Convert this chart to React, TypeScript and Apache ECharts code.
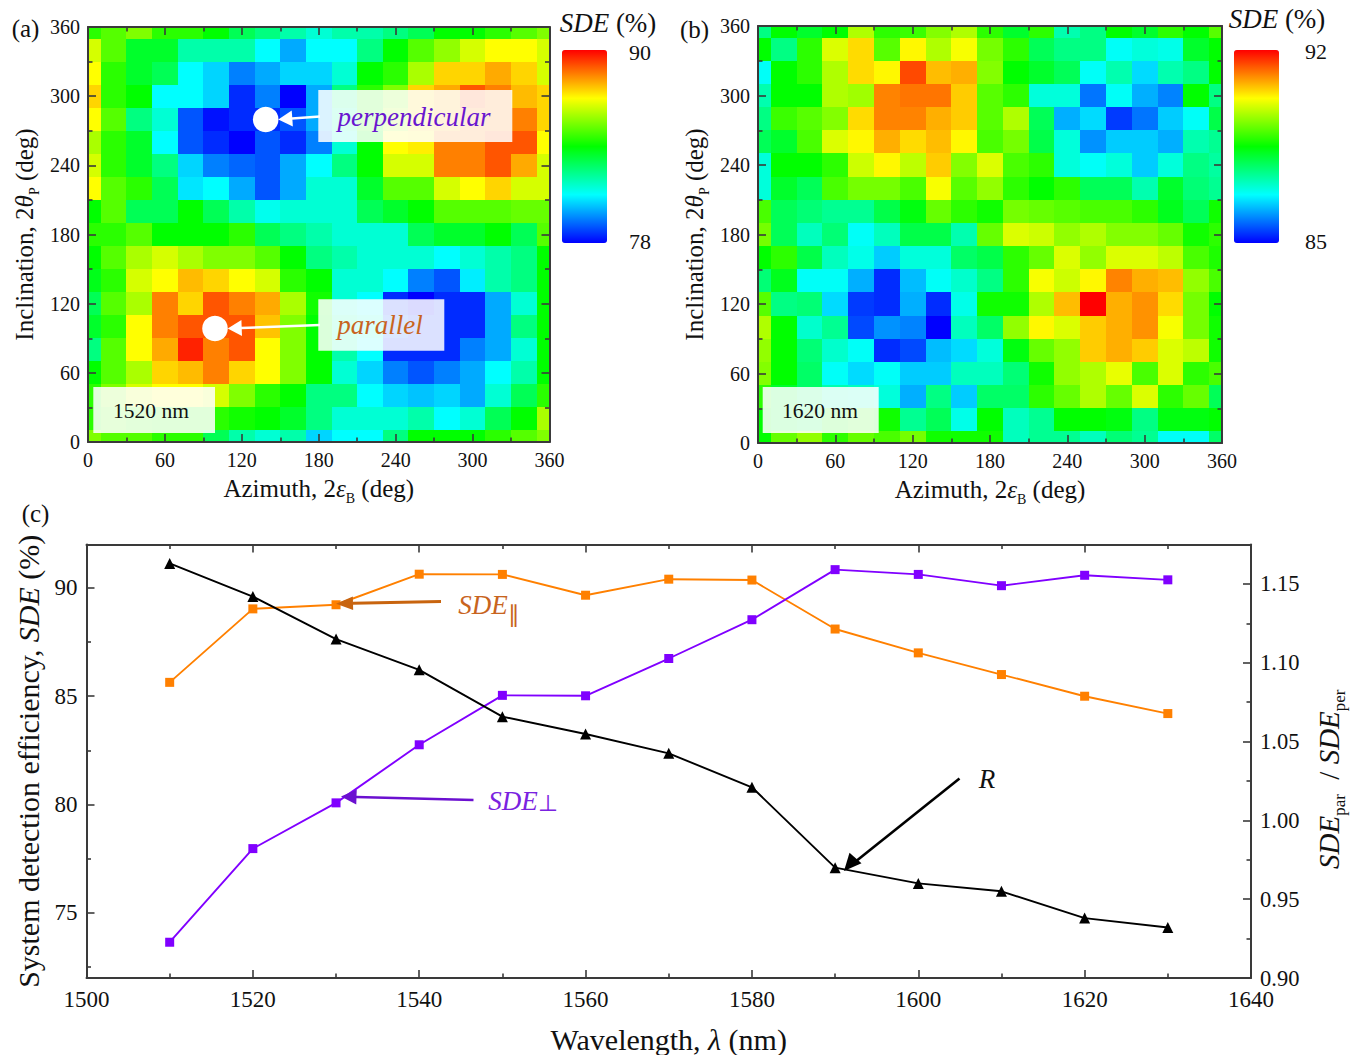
import React, { useEffect, useRef } from "react";
import * as echarts from "echarts";

const FONT = "Liberation Serif";
const azimuthStep = 20;
const heatTicksMajor = [0, 60, 120, 180, 240, 300, 360];
const heatTicksMinor = [30, 90, 150, 210, 270, 330];
const rainbow = ["#0000ff", "#00ffff", "#00ff00", "#ffff00", "#ff0000"];

// rows run from inclination 360 (top) to 0 (bottom), columns from azimuth 0 to 360
const sde1520 = [
  [84.5, 85, 85.5, 84.5, 84.5, 84, 83, 82.5, 82, 81.5, 82, 82, 82.5, 83, 84, 84, 84.5, 85, 85.5],
  [86.5, 85, 83.5, 83.5, 82, 82, 82, 81, 80, 81, 81, 82.5, 84, 85, 85.7, 86.5, 87, 87, 86.5],
  [87, 84.5, 83.5, 83, 81, 80.5, 79.5, 80, 80.5, 80.5, 81.5, 84, 84.5, 86, 87.5, 87.5, 88, 87.5, 86.5],
  [87.5, 84.5, 84, 81, 81, 80.5, 78.5, 79.5, 78, 80, 82.5, 84.5, 85.5, 87.5, 88, 89, 88.5, 87.8, 87.5],
  [87, 85, 82.5, 81.5, 79, 78.2, 78.5, 78.5, 79, 80, 82, 84.5, 86, 87.5, 88, 88.5, 88.5, 88.5, 87.5],
  [86, 84.5, 83.5, 81, 79, 78.5, 78, 79, 78.5, 79.5, 81.5, 84, 87, 87.2, 88.5, 88.5, 89, 89, 87],
  [86.5, 84.5, 83.5, 82.5, 80.5, 79.5, 79.2, 79, 80, 81, 82.5, 84, 86.5, 86.5, 88.5, 88.5, 89, 88, 86.5],
  [87, 85, 84.5, 83, 80.7, 81, 80, 79, 80, 81.5, 81.5, 83.5, 85, 85, 86.5, 87, 87.5, 86.5, 86.5],
  [84, 85, 83, 83, 84, 83, 82, 81.2, 81.5, 81.5, 81.5, 83, 83.5, 84, 85, 85, 85, 85.2, 85.2],
  [84.5, 84.5, 85, 84, 84, 84, 84.5, 83, 82.5, 82, 81.5, 81.5, 81.5, 83, 83.5, 83.5, 84, 83, 85],
  [84, 85, 86, 86.5, 86, 85.5, 85.5, 85, 84, 82.5, 82, 81.5, 81.5, 81.5, 81, 81.5, 82, 82.5, 84],
  [83.7, 84.5, 86.5, 87, 87.8, 87.5, 87, 86.5, 84.5, 84, 81.5, 81.5, 81, 79.5, 79, 80.8, 82, 82.5, 84],
  [83, 85, 86, 88.5, 87.5, 89, 88.5, 88, 86, 84.2, 81.5, 81, 78.5, 78, 78.5, 78.5, 80, 81.5, 84],
  [83.5, 84.5, 87, 88.5, 89, 89, 89, 87.7, 85.5, 84, 82, 81.5, 79, 78.5, 78.5, 78.5, 80, 82.5, 84],
  [82.5, 85, 87, 88, 89.6, 88.5, 89, 87, 85.5, 84, 82, 81, 78.5, 78.5, 78.5, 79.5, 80, 81.5, 84],
  [84, 85, 86, 87.5, 87.8, 88.5, 87.5, 87, 85.5, 84, 81.5, 80.5, 79.5, 79, 79.5, 80, 81, 82, 84],
  [84.5, 85.5, 86.5, 87, 87, 86.5, 85.5, 84.5, 84, 82.5, 82.5, 81, 80.5, 80.3, 80.5, 80, 81.5, 83, 84.5],
  [84.5, 85, 84.7, 84.5, 84.5, 84.5, 84.2, 84, 83.5, 82.5, 81.5, 81.5, 81.5, 82, 81, 81.5, 83, 84, 86],
  [85.5, 85, 85, 84.5, 84.5, 83, 82, 81.5, 82, 80.5, 81, 81, 82.5, 84, 84, 84, 84.5, 85, 85.5],
];

const sde1620 = [
  [87.6, 88.5, 88.2, 88.5, 89.7, 88.8, 88.9, 89.4, 89.7, 88.8, 88.2, 88.8, 87.3, 87.6, 88.5, 88.2, 88.8, 88.5, 89.1],
  [88.5, 87.6, 88.8, 90, 90.5, 89.1, 90.3, 89.7, 90.2, 89.3, 88.8, 87.9, 87.6, 87.6, 86.8, 87, 86.9, 88.2, 88.5],
  [86.8, 88.5, 88.8, 89.7, 90.5, 90.3, 91.5, 90.7, 90.8, 89.4, 88.5, 88.2, 87.9, 86.8, 87.3, 86.5, 87.3, 87.6, 88.5],
  [87.3, 88.5, 88.5, 89.7, 89.6, 91.1, 91.2, 91.2, 90.6, 89.1, 88.8, 87, 87, 85.8, 86.8, 86.2, 85.9, 88.5, 87.6],
  [87.6, 88.9, 89.1, 89.4, 90.5, 91.1, 91.1, 90.8, 90.6, 89.1, 89.7, 87.9, 86.2, 86.5, 85.4, 85.8, 86.4, 86.8, 88],
  [87.9, 88.2, 89, 90, 90.3, 90.8, 90.5, 90.7, 90.3, 89, 89.3, 88, 87, 86, 86.4, 86.4, 86.2, 87.3, 87.5],
  [87, 88.5, 88.5, 88.8, 89.9, 90.3, 89.8, 90.6, 89.4, 90, 89, 88.8, 87, 86.8, 87, 86.4, 87, 87.6, 87.4],
  [87, 88.2, 87.9, 89, 89.3, 89.3, 89, 90.2, 89.1, 89.5, 88.8, 88.5, 88.8, 87.9, 87.9, 87.3, 88.2, 87.7, 87.5],
  [89, 87.9, 87.7, 87.5, 87.5, 88, 88.4, 89.2, 88.8, 88.6, 89.3, 89.2, 89.1, 89, 89, 88.8, 88.3, 87.9, 88.6],
  [89.3, 87.9, 87.2, 87.7, 86.8, 87.2, 88, 88, 87.3, 89.2, 90, 89.9, 89.5, 89.7, 89.4, 89.4, 89.2, 88.6, 88.8],
  [88.5, 88.8, 88, 87.2, 86.9, 86.4, 87, 87, 87.8, 88, 88.8, 89.2, 90, 89.5, 90, 90, 89.8, 89, 88.7],
  [87.7, 88.3, 86.8, 86.8, 86.2, 85.3, 86.3, 86.8, 87.1, 87.6, 88.8, 90.2, 89.9, 90.3, 91.1, 90.8, 90.7, 89.5, 89],
  [89.1, 87.6, 87.7, 86.5, 85.4, 85.3, 86.2, 85.3, 86.9, 88.6, 88.6, 89.7, 90.7, 92, 90.8, 91, 90.5, 89.3, 88.5],
  [89.7, 88.5, 87.1, 87.5, 85.5, 86, 85.9, 85, 87.2, 87.8, 89.5, 90.3, 90, 90.6, 90.8, 91, 90.2, 89.3, 88.6],
  [89.5, 88.5, 87.7, 87.1, 86.8, 85.3, 85.5, 86.3, 86.5, 87, 88.4, 89.2, 89.5, 90.6, 90.8, 90.6, 90, 89.8, 88.6],
  [89.4, 88.5, 87.8, 86.8, 86.5, 86.8, 86.4, 86.4, 87.2, 87.2, 87.7, 88.6, 89.5, 89.7, 90.1, 89, 90, 88.8, 89],
  [88.8, 88.2, 87.8, 87.3, 87.2, 87, 86.2, 87.6, 86.4, 87.8, 87.8, 88.8, 89.2, 89.7, 89.2, 90, 88.8, 89.2, 87.9],
  [88.5, 88.2, 88, 88.6, 88.8, 88.6, 87.5, 87.9, 86.9, 88.5, 87.2, 87.5, 88.5, 88.5, 88.4, 87.6, 88.4, 88.4, 88.5],
  [88.5, 89.2, 89.5, 88.8, 89.2, 89, 89.3, 88.6, 88.6, 88.6, 87.2, 87.5, 87.5, 87.2, 87.7, 87.5, 86.8, 86.8, 87.8],
];

const wavelengths = [1510, 1520, 1530, 1540, 1550, 1560, 1570, 1580, 1590, 1600, 1610, 1620, 1630];
const sdeParallel = [85.64, 89.03, 89.22, 90.63, 90.62, 89.66, 90.4, 90.36, 88.1, 87.0, 86.0, 85.0, 84.2];
const sdePerpendicular = [73.65, 77.97, 80.08, 82.76, 85.04, 85.02, 86.74, 88.53, 90.84, 90.62, 90.1, 90.58, 90.37];
const ratioR = [1.163, 1.142, 1.115, 1.0955, 1.0658, 1.0548, 1.0425, 1.021, 0.97, 0.96, 0.955, 0.938, 0.932];

const wlMajor = [1500, 1520, 1540, 1560, 1580, 1600, 1620, 1640];
const wlMinor = [1510, 1530, 1550, 1570, 1590, 1610, 1630];
const sdeMajor = [75, 80, 85, 90];
const sdeMinor = [72.5, 77.5, 82.5, 87.5];
const ratioMajor = [0.9, 0.95, 1.0, 1.05, 1.1, 1.15];
const ratioMinor = [0.925, 0.975, 1.025, 1.075, 1.125];

const AXIS = "#3a3a3a";

const nameRich = (size: number) => ({
  i: { fontFamily: FONT, fontSize: size, fontStyle: "italic", color: "#111" },
  s: { fontFamily: FONT, fontSize: Math.round(size * 0.58), color: "#111", padding: [Math.round(size * 0.75), 0, 0, 0], verticalAlign: "middle" },
  n: { fontFamily: FONT, fontSize: size, color: "#111" },
});

function axisSet(kind: "x" | "y", gridIndex: number, min: number, max: number, major: number[], minor: number[], main: any, second: any) {
  const base = { type: "value", gridIndex, min, max, scale: true, splitLine: { show: false }, z: 10 };
  const tick = (values: number[], length: number) => ({
    show: true, inside: true, length, customValues: values, lineStyle: { color: AXIS, width: 1.6 },
  });
  const line = (show: boolean) => ({ show, onZero: false, lineStyle: { color: AXIS, width: 2 } });
  const [p1, p2] = kind === "x" ? ["bottom", "top"] : ["left", "right"];
  return [
    { ...base, position: p1, axisLine: line(true), axisTick: tick(major, 8), ...main },
    { ...base, position: p1, axisLine: line(false), axisTick: tick(minor, 4.5), axisLabel: { show: false } },
    { ...base, position: p2, axisLine: line(true), axisTick: tick(major, 8), axisLabel: { show: false }, ...second },
    { ...base, position: p2, axisLine: line(false), axisTick: tick(minor, 4.5), axisLabel: { show: false } },
  ];
}

const renderCell = (_: any, api: any) => {
  const x = api.value(0);
  const y = api.value(1);
  const half = azimuthStep / 2;
  const a = api.coord([Math.max(0, x - half), Math.min(360, y + half)]);
  const b = api.coord([Math.min(360, x + half), Math.max(0, y - half)]);
  const l = Math.round(a[0]), t = Math.round(a[1]), r = Math.round(b[0]), bt = Math.round(b[1]);
  return { type: "rect", shape: { x: l, y: t, width: r - l, height: bt - t }, style: { fill: api.visual("color") } };
};

const cells = (rows: number[][]) =>
  rows.flatMap((row, i) => row.map((v, j) => [j * azimuthStep, 360 - i * azimuthStep, v]));

function txt(x: number, y: number, text: string, size: number, extra: any = {}, rich?: any) {
  return {
    type: "text", x, y, z: 120,
    style: { text, fontFamily: FONT, fontSize: size, fill: "#111", align: "center", verticalAlign: "middle", rich, ...extra },
  };
}
function box(x: number, y: number, w: number, h: number, opacity = 0.86) {
  return { type: "rect", z: 110, shape: { x, y, width: w, height: h }, style: { fill: `rgba(255,255,255,${opacity})` } };
}
function seg(x1: number, y1: number, x2: number, y2: number, color: string, width: number) {
  return { type: "line", z: 115, shape: { x1, y1, x2, y2 }, style: { stroke: color, lineWidth: width } };
}
function head(tx: number, ty: number, bx: number, by: number, half: number, color: string) {
  const dx = bx - tx, dy = by - ty, len = Math.hypot(dx, dy);
  const nx = (-dy / len) * half, ny = (dx / len) * half;
  return {
    type: "polygon", z: 116,
    shape: { points: [[tx, ty], [bx + nx, by + ny], [bx - nx, by - ny]] },
    style: { fill: color },
  };
}

const sdeLabel = (size: number, color = "#111", subDrop = 0.7) => ({
  i: { fontFamily: FONT, fontStyle: "italic", fontSize: size, fill: color, color },
  n: { fontFamily: FONT, fontSize: size, fill: color, color },
  s: { fontFamily: FONT, fontSize: size * 0.85, fill: color, color, padding: [size * subDrop, 0, 0, 0] },
});

export default function App() {
  const ref = useRef<HTMLDivElement>(null);
  useEffect(() => {
    const chart = echarts.init(ref.current!, undefined, { renderer: "svg" });

    const azTitle = "{n|Azimuth, 2}{i|ε}{s|B}{n| (deg)}";
    const incTitle = "{n|Inclination, 2}{i|θ}{s|P}{n| (deg)}";
    const plain = (v: number) => String(v);
    const heatX = (g: number) =>
      axisSet("x", g, 0, 360, heatTicksMajor, heatTicksMinor, {
        axisLabel: { fontFamily: FONT, fontSize: 20, color: "#111", margin: 8, customValues: heatTicksMajor, formatter: plain },
        name: azTitle, nameLocation: "middle", nameGap: 30, nameTextStyle: { fontFamily: FONT, fontSize: 25, rich: nameRich(25) },
      }, {});
    const heatY = (g: number) =>
      axisSet("y", g, 0, 360, heatTicksMajor, heatTicksMinor, {
        axisLabel: { fontFamily: FONT, fontSize: 20, color: "#111", margin: 8, customValues: heatTicksMajor, formatter: plain },
        name: incTitle, nameLocation: "middle", nameGap: 47, nameTextStyle: { fontFamily: FONT, fontSize: 25, rich: nameRich(25) },
      }, {});

    const cX = axisSet("x", 2, 1500, 1640, wlMajor, wlMinor, {
      axisLabel: { fontFamily: FONT, fontSize: 23, color: "#111", margin: 10, customValues: wlMajor, formatter: plain },
      name: "{n|Wavelength, }{i|λ}{n| (nm)}", nameLocation: "middle", nameGap: 46, nameTextStyle: { fontFamily: FONT, fontSize: 30, rich: nameRich(30) },
    }, {});
    const base2 = { type: "value", gridIndex: 2, splitLine: { show: false }, z: 10 };
    const tick2 = (values: number[], length: number) => ({ show: true, inside: true, length, customValues: values, lineStyle: { color: AXIS, width: 1.6 } });
    const line2 = { show: true, onZero: false, lineStyle: { color: AXIS, width: 2 } };
    const cY = [
      { ...base2, min: 72, max: 92, position: "left", axisLine: line2, axisTick: tick2(sdeMajor, 8),
        axisLabel: { fontFamily: FONT, fontSize: 23, color: "#111", margin: 9, customValues: sdeMajor, formatter: plain },
        name: "{n|System detection efficiency, }{i|SDE}{n| (%)}", nameLocation: "middle", nameGap: 36, nameTextStyle: { fontFamily: FONT, fontSize: 30, rich: nameRich(30) } },
      { ...base2, min: 72, max: 92, position: "left", axisLine: { show: false, onZero: false }, axisTick: tick2(sdeMinor, 4.5), axisLabel: { show: false } },
      { ...base2, min: 0.9, max: 1.175, position: "right", axisLine: line2, axisTick: tick2(ratioMajor, 8),
        axisLabel: { fontFamily: FONT, fontSize: 22.5, color: "#111", margin: 9, formatter: (v: number) => v.toFixed(2), customValues: ratioMajor },
        name: "{i|SDE}{s|par}{n|  / }{i|SDE}{s|per}", nameLocation: "middle", nameRotate: 90, nameGap: 58,
        nameTextStyle: { fontFamily: FONT, fontSize: 29, rich: nameRich(29), padding: [0, 36, 0, 0] } },
      { ...base2, min: 0.9, max: 1.175, position: "right", axisLine: { show: false, onZero: false }, axisTick: tick2(ratioMinor, 4.5), axisLabel: { show: false } },
    ];

    const lineSeries = (name: string, data: number[], color: string, yAxisIndex: number, symbol: string, size: number) => ({
      name, type: "line", xAxisIndex: 8, yAxisIndex, data: wavelengths.map((w, i) => [w, data[i]]),
      symbol, symbolSize: size, showAllSymbol: true, z: 5,
      lineStyle: { color, width: 1.9 }, itemStyle: { color },
    });

    const heat = (g: number, rows: number[][]) => ({
      type: "custom", xAxisIndex: g * 4, yAxisIndex: g * 4, renderItem: renderCell,
      data: cells(rows), encode: { x: 0, y: 1 }, z: 2, silent: true,
    });

    const ORANGE_TXT = "#c8641e", PURPLE_TXT = "#6a16cf";

    const graphics: any[] = [
      txt(25.5, 28, "(a)", 25), txt(694.5, 29, "(b)", 25), txt(35.5, 513, "(c)", 25),
      txt(608, 23, "{i|SDE}{n| (%)}", 27, {}, sdeLabel(27)),
      txt(1277, 19, "{i|SDE}{n| (%)}", 27, {}, sdeLabel(27)),
      txt(640, 52, "90", 22), txt(640, 241, "78", 22),
      txt(1316, 51, "92", 22), txt(1316, 241, "85", 22),
      box(318.3, 90, 194, 52), box(318.3, 299.3, 126, 51.4),
      box(93.3, 387, 121.7, 46), box(762.7, 387, 116, 46),
      txt(151, 411, "1520 nm", 21.5), txt(820, 411, "1620 nm", 21.5),
      txt(414, 117, "perpendicular", 27, { fontStyle: "italic", fill: PURPLE_TXT }),
      txt(380, 325, "parallel", 27, { fontStyle: "italic", fill: ORANGE_TXT }),
      { type: "circle", z: 116, shape: { cx: 265.7, cy: 119.5, r: 12.8 }, style: { fill: "#fff" } },
      { type: "circle", z: 116, shape: { cx: 215, cy: 328.5, r: 12.8 }, style: { fill: "#fff" } },
      seg(292, 118.5, 320, 116.5, "#fff", 2.4), head(278.3, 119.5, 292.3, 118.5, 8, "#fff"),
      seg(241, 328, 320, 325, "#fff", 2.4), head(227.7, 328.5, 241.7, 328, 8, "#fff"),
      seg(353, 603.3, 441, 601.5, "#c8640f", 3), head(336, 603.7, 353, 603.3, 6.8, "#c8640f"),
      seg(356, 797, 473.5, 800, "#6b10d0", 2.6), head(341, 796.5, 356.5, 797, 7.5, "#6b10d0"),
      seg(855, 862, 959.5, 778.5, "#000", 2.6), head(844, 871, 855.5, 858, 8, "#000"),
      txt(489, 605, "{i|SDE}{s|∥}", 27, {}, sdeLabel(27, "#c8641e", 0.7)),
      txt(523, 801, "{i|SDE}{s|⊥}", 27, {}, sdeLabel(27, "#7a22e0", 0.2)),
      txt(987, 779, "R", 27, { fontStyle: "italic" }),
    ];

    chart.setOption({
      animation: false,
      textStyle: { fontFamily: FONT },
      backgroundColor: "#fff",
      grid: [
        { left: 88, top: 27, width: 461.5, height: 415 },
        { left: 758, top: 26, width: 464, height: 417 },
        { left: 86.5, top: 544.5, width: 1167.5, height: 435.5 },
      ],
      xAxis: [...heatX(0), ...heatX(1), ...cX],
      yAxis: [...heatY(0), ...heatY(1), ...cY],
      visualMap: [
        { type: "continuous", seriesIndex: 0, dimension: 2, min: 78, max: 90, left: 562, top: 50, itemWidth: 45, itemHeight: 193, calculable: false, show: true, text: ["", ""], showLabel: false, inRange: { color: rainbow }, borderWidth: 0, padding: 0 },
        { type: "continuous", seriesIndex: 1, dimension: 2, min: 85, max: 92, left: 1234, top: 50, itemWidth: 45, itemHeight: 193, calculable: false, show: true, text: ["", ""], showLabel: false, inRange: { color: rainbow }, borderWidth: 0, padding: 0 },
      ],
      series: [
        heat(0, sde1520),
        heat(1, sde1620),
        lineSeries("SDE par", sdeParallel, "#ff8000", 8, "rect", 9),
        lineSeries("SDE per", sdePerpendicular, "#8000ff", 8, "rect", 9),
        lineSeries("R", ratioR, "#000000", 10, "triangle", 11),
      ],
      graphic: { elements: graphics },
    });
    return () => chart.dispose();
  }, []);
  return <div ref={ref} style={{ position: "absolute", left: 0, top: 0, width: 1356, height: 1055 }} />;
}
